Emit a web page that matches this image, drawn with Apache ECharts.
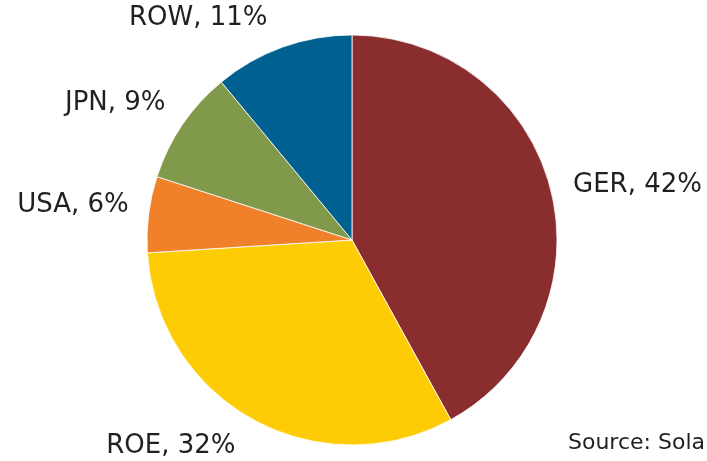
<!DOCTYPE html>
<html>
<head>
<meta charset="utf-8">
<script src="https://cdn.jsdelivr.net/npm/echarts@6/dist/echarts.min.js"></script>
<style>
  html, body { margin: 0; padding: 0; background: #fff; }
  #chart { width: 707px; height: 461px; }
</style>
</head>
<body>
<div id="chart"></div>
<script>
const regions = ["GER", "ROE", "USA", "JPN", "ROW"];
const shares = [42, 32, 6, 9, 11];
const colors = ["#8A2D2F", "#FECC04", "#F1802B", "#80994A", "#00608F"];
// label nudges (px) so the texts sit where the original put them
const labelDx = [0, -4, 3, 3, -4];
const labelDy = [1, 11, -7, -11, -12];

const chart = echarts.init(document.getElementById("chart"));

const option = {
  animation: false,
  textStyle: { fontFamily: "DejaVu Sans" },
  graphic: [
    {
      type: "text",
      left: 568,
      top: 432,
      style: { text: "Source: Solar", fontSize: 22, fill: "#231F20", fontFamily: "DejaVu Sans" },
    },
  ],
  series: [
    {
      type: "pie",
      center: [352, 240],
      radius: 205,
      startAngle: 90,
      clockwise: true,
      itemStyle: { borderColor: "#fff", borderWidth: 0.8 },
      label: {
        show: true,
        position: "outside",
        formatter: "{b}, {c}%",
        fontSize: 26,
        color: "#231F20",
        fontFamily: "DejaVu Sans",
        overflow: "none",
        width: 300,
      },
      labelLine: { show: false, length: 18, length2: 0 },
      labelLayout: (p) => ({ dx: labelDx[p.dataIndex], dy: labelDy[p.dataIndex] }),
      emphasis: { disabled: true },
      data: regions.map((name, i) => ({
        name,
        value: shares[i],
        itemStyle: { color: colors[i] },
      })),
    },
  ],
};

chart.setOption(option);
</script>
</body>
</html>
